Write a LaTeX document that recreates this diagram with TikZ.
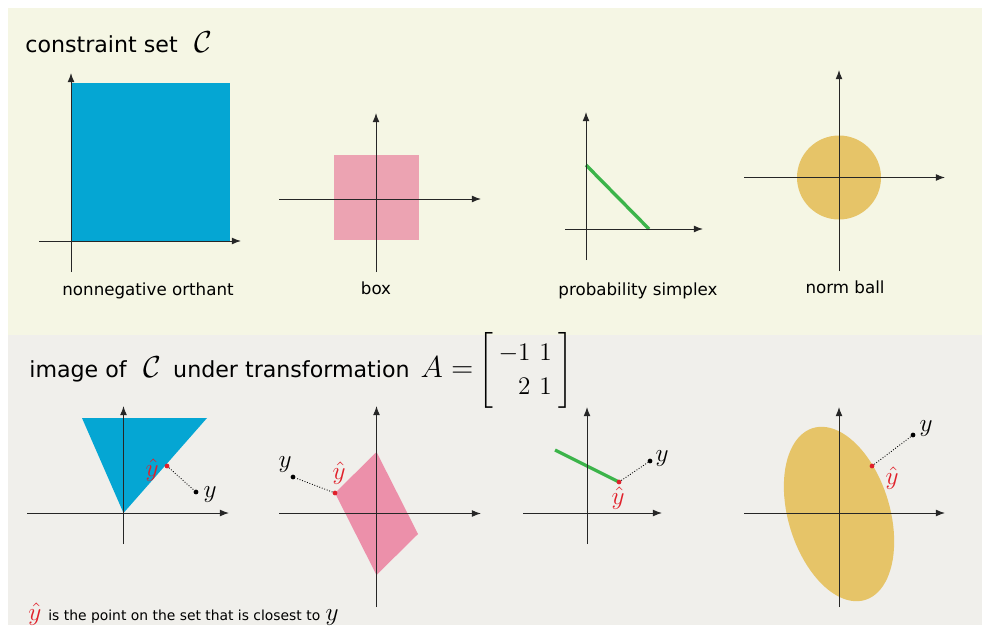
\documentclass[tikz,border=0pt]{standalone}
\usepackage{amsmath}
\usepackage[no-math]{fontspec}
\setmainfont{DejaVu Sans}
\usepackage{tikz}
\usepackage{xcolor}
\usetikzlibrary{arrows.meta}

\definecolor{topbg}{HTML}{F5F6E4}
\definecolor{botbg}{HTML}{F0EFEB}
\definecolor{orthblue}{HTML}{05A6D3}
\definecolor{boxpink}{HTML}{ECA3B2}
\definecolor{boxpinkdk}{HTML}{EC90AA}
\definecolor{simpgreen}{HTML}{3CB44A}
\definecolor{ballgold}{HTML}{E6C468}
\definecolor{projred}{HTML}{E0202A}

\newcommand{\mlsize}{\fontsize{14}{19}\selectfont}
\newcommand{\calsize}{\fontsize{17}{20}\selectfont}
\newcommand{\eqsize}{\fontsize{16}{19}\selectfont}
\newcommand{\matsize}{\fontsize{13.5}{19.3}\selectfont}

\begin{document}
\begin{tikzpicture}[x=0.02cm,y=-0.02cm,
  axisarrow/.style={-{Latex[length=5.2pt,width=3.9pt]},line width=0.55pt,black!85},
  setname/.style={font=\fontsize{9.5}{11}\selectfont,anchor=base,inner sep=0pt},
  heading/.style={font=\fontsize{12.6}{15}\selectfont,anchor=base west,inner sep=0pt},
  mlabel/.style={font=\mlsize,inner sep=0pt},
  ptdot/.style={circle,fill=black,inner sep=0pt,minimum size=2.7pt},
  projdot/.style={ptdot,fill=projred},
  gap/.style={densely dotted,line width=0.5pt}]
\useasboundingbox (0,0) rectangle (982,625);
\fill[topbg] (8,8) rectangle (982,335);
\fill[botbg] (8,335) rectangle (982,625);

\node[heading] (ttop) at (25,52) {constraint set\hspace{0.75em}{\calsize$\mathcal{C}$}};
\node[heading] (tbot) at (29,377) {image of\hspace{0.75em}{\calsize$\mathcal{C}$}\hspace{0.55em}under transformation\hspace{0.5em}{\eqsize$A=$}\hspace{3pt}{\matsize$\left[\begin{array}{@{\hspace{3pt}}r@{\hspace{5pt}}r@{\hspace{4pt}}}-1&1\\2&1\end{array}\right]$}};

\fill[orthblue] (71,83) rectangle (230,241);
\fill[boxpink] (334,155) rectangle (419,240);
\draw[simpgreen,line width=1.9pt] (586,165) -- (649,229);
\fill[ballgold] (839,177.5) circle[radius=42];

\fill[orthblue] (82,418) -- (207,418) -- (123.5,513) -- cycle;
\fill[boxpinkdk] (376.5,452) -- (335,493) -- (376.5,575) -- (418,534) -- cycle;
\draw[simpgreen,line width=1.9pt] (555,450) -- (619,482);
\fill[ballgold] plot[domain=0:360,samples=91,variable=\t] ({839+39*(sin(\t)-cos(\t))},{514-39*(2*cos(\t)+sin(\t))}) -- cycle;

\foreach \xl/\xr/\yh/\xv/\yb/\yt in {39/241/241/71/272/73, 279/481/199/376/272/113, 565/703/229/586/260/112, 744/945/177.5/839/271/70, 27/229/513/123.5/544/406, 279/481/513.5/376.5/607/406, 523/662/513/587/544/407, 744/945/513/839/607/407}
  {\draw[axisarrow] (\xl,\yh) -- (\xr,\yh);
   \draw[axisarrow] (\xv,\yb) -- (\xv,\yt);}

\node[setname] (lorth) at (148,295) {nonnegative orthant};
\node[setname] (lbox) at (376,294) {box};
\node[setname] (lsimp) at (638,295) {probability simplex};
\node[setname] (lball) at (845,293) {norm ball};

\foreach \i/\yx/\yy/\hx/\hy in {1/196/492/167/466, 2/293/477/335/493, 3/650/461/619/482, 4/913/435/872/466}
  {\node[ptdot] (y\i) at (\yx,\yy) {};
   \node[projdot] (h\i) at (\hx,\hy) {};
   \draw[gap] (h\i) -- (y\i);}

\foreach \i/\lx/\ly/\mx/\my in {1/210/495/152/470, 2/285/465/339/473, 3/662/459/618/498, 4/926/429/892/478}
  {\node[mlabel] (ly\i) at (\lx,\ly) {$y$};
   \node[mlabel,text=projred] (lh\i) at (\mx,\my) {$\hat{y}$};}

\node[anchor=base west,inner sep=0pt,font=\fontsize{7.9}{9}\selectfont] (note) at (28,620) {{\mlsize\textcolor{projred}{$\hat{y}$}}\hspace{4pt}is the point on the set that is closest to\hspace{3pt}{\mlsize$y$}};
\end{tikzpicture}
\end{document}
